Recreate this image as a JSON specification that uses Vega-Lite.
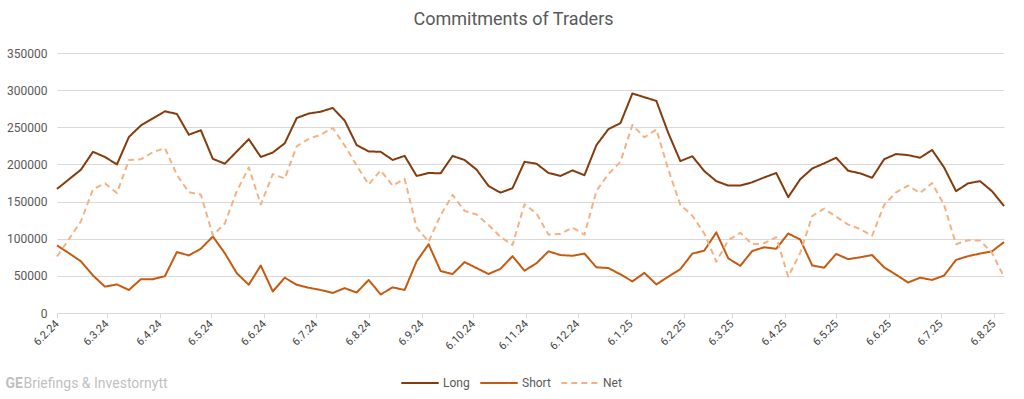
{
  "$schema": "https://vega.github.io/schema/vega-lite/v6.json",
  "autosize": {"type": "none"},
  "padding": {"left": 57, "top": 53, "right": 20, "bottom": 86},
  "width": 947,
  "height": 260,
  "background": "white",
  "config": {"view": {"stroke": null}, "font": "Roboto"},
  "title": {"text": "Commitments of Traders", "fontSize": 18, "font": "Roboto", "fontWeight": "normal", "color": "#595959", "anchor": "middle", "dx": -17, "offset": 18},
  "data": {"values": [
    {"date": "2024-02-06", "Long": 167000, "Short": 91000, "Net": 76000},
    {"date": "2024-02-13", "Long": 180000, "Short": 80500, "Net": 99500},
    {"date": "2024-02-20", "Long": 193000, "Short": 69500, "Net": 123500},
    {"date": "2024-02-27", "Long": 217000, "Short": 50500, "Net": 166500},
    {"date": "2024-03-05", "Long": 210000, "Short": 35500, "Net": 174500},
    {"date": "2024-03-12", "Long": 200000, "Short": 38500, "Net": 161500},
    {"date": "2024-03-19", "Long": 237000, "Short": 31000, "Net": 206000},
    {"date": "2024-03-26", "Long": 252500, "Short": 45500, "Net": 207000},
    {"date": "2024-04-02", "Long": 262000, "Short": 45500, "Net": 216500},
    {"date": "2024-04-09", "Long": 271500, "Short": 49500, "Net": 222000},
    {"date": "2024-04-16", "Long": 268000, "Short": 82000, "Net": 186000},
    {"date": "2024-04-23", "Long": 240000, "Short": 77500, "Net": 162500},
    {"date": "2024-04-30", "Long": 246000, "Short": 86500, "Net": 159500},
    {"date": "2024-05-07", "Long": 207500, "Short": 103000, "Net": 104500},
    {"date": "2024-05-14", "Long": 201000, "Short": 80500, "Net": 120500},
    {"date": "2024-05-21", "Long": 217500, "Short": 53500, "Net": 164000},
    {"date": "2024-05-28", "Long": 234000, "Short": 38000, "Net": 196000},
    {"date": "2024-06-04", "Long": 210000, "Short": 64000, "Net": 146000},
    {"date": "2024-06-11", "Long": 216000, "Short": 29000, "Net": 187000},
    {"date": "2024-06-18", "Long": 228500, "Short": 47500, "Net": 181000},
    {"date": "2024-06-25", "Long": 262500, "Short": 38000, "Net": 224500},
    {"date": "2024-07-02", "Long": 268500, "Short": 34000, "Net": 234500},
    {"date": "2024-07-09", "Long": 271000, "Short": 31000, "Net": 240000},
    {"date": "2024-07-16", "Long": 276000, "Short": 27000, "Net": 249000},
    {"date": "2024-07-23", "Long": 259000, "Short": 33500, "Net": 225500},
    {"date": "2024-07-30", "Long": 226000, "Short": 27500, "Net": 198500},
    {"date": "2024-08-06", "Long": 217500, "Short": 44500, "Net": 173000},
    {"date": "2024-08-13", "Long": 217000, "Short": 25000, "Net": 192000},
    {"date": "2024-08-20", "Long": 206000, "Short": 34500, "Net": 171500},
    {"date": "2024-08-27", "Long": 211500, "Short": 31000, "Net": 180500},
    {"date": "2024-09-03", "Long": 184500, "Short": 69500, "Net": 115000},
    {"date": "2024-09-10", "Long": 188500, "Short": 92500, "Net": 96000},
    {"date": "2024-09-17", "Long": 188000, "Short": 56500, "Net": 131500},
    {"date": "2024-09-24", "Long": 211500, "Short": 52500, "Net": 159000},
    {"date": "2024-10-01", "Long": 206000, "Short": 68500, "Net": 137500},
    {"date": "2024-10-08", "Long": 193000, "Short": 60500, "Net": 132500},
    {"date": "2024-10-15", "Long": 171000, "Short": 52500, "Net": 118500},
    {"date": "2024-10-22", "Long": 162000, "Short": 59500, "Net": 102500},
    {"date": "2024-10-29", "Long": 168000, "Short": 76500, "Net": 91500},
    {"date": "2024-11-05", "Long": 203500, "Short": 57000, "Net": 146500},
    {"date": "2024-11-12", "Long": 201000, "Short": 67000, "Net": 134000},
    {"date": "2024-11-19", "Long": 188500, "Short": 83000, "Net": 105500},
    {"date": "2024-11-26", "Long": 184500, "Short": 78000, "Net": 106500},
    {"date": "2024-12-03", "Long": 192000, "Short": 77000, "Net": 115000},
    {"date": "2024-12-10", "Long": 185500, "Short": 80000, "Net": 105500},
    {"date": "2024-12-17", "Long": 226000, "Short": 61500, "Net": 164500},
    {"date": "2024-12-24", "Long": 247500, "Short": 60500, "Net": 187000},
    {"date": "2024-12-31", "Long": 255500, "Short": 52000, "Net": 203500},
    {"date": "2025-01-07", "Long": 295500, "Short": 42500, "Net": 253000},
    {"date": "2025-01-14", "Long": 290500, "Short": 54000, "Net": 236500},
    {"date": "2025-01-21", "Long": 285500, "Short": 38500, "Net": 247000},
    {"date": "2025-01-28", "Long": 242000, "Short": 49000, "Net": 193000},
    {"date": "2025-02-04", "Long": 204500, "Short": 59000, "Net": 145500},
    {"date": "2025-02-11", "Long": 211000, "Short": 80000, "Net": 131000},
    {"date": "2025-02-18", "Long": 191000, "Short": 84000, "Net": 107000},
    {"date": "2025-02-25", "Long": 177500, "Short": 108500, "Net": 69000},
    {"date": "2025-03-04", "Long": 171500, "Short": 73500, "Net": 98000},
    {"date": "2025-03-11", "Long": 171500, "Short": 63500, "Net": 108000},
    {"date": "2025-03-18", "Long": 176000, "Short": 83500, "Net": 92500},
    {"date": "2025-03-25", "Long": 182500, "Short": 88500, "Net": 94000},
    {"date": "2025-04-01", "Long": 188500, "Short": 86500, "Net": 102000},
    {"date": "2025-04-08", "Long": 156000, "Short": 107000, "Net": 49000},
    {"date": "2025-04-15", "Long": 180000, "Short": 99000, "Net": 81000},
    {"date": "2025-04-22", "Long": 194500, "Short": 64000, "Net": 130500},
    {"date": "2025-04-29", "Long": 201500, "Short": 61000, "Net": 140500},
    {"date": "2025-05-06", "Long": 209000, "Short": 79500, "Net": 129500},
    {"date": "2025-05-13", "Long": 191500, "Short": 72500, "Net": 119000},
    {"date": "2025-05-20", "Long": 188000, "Short": 75000, "Net": 113000},
    {"date": "2025-05-27", "Long": 182000, "Short": 78000, "Net": 104000},
    {"date": "2025-06-03", "Long": 207000, "Short": 61500, "Net": 145500},
    {"date": "2025-06-10", "Long": 214000, "Short": 51500, "Net": 162500},
    {"date": "2025-06-17", "Long": 212500, "Short": 41000, "Net": 171500},
    {"date": "2025-06-24", "Long": 209000, "Short": 47500, "Net": 161500},
    {"date": "2025-07-01", "Long": 219500, "Short": 44500, "Net": 175000},
    {"date": "2025-07-08", "Long": 196000, "Short": 50500, "Net": 145500},
    {"date": "2025-07-15", "Long": 164000, "Short": 71500, "Net": 92500},
    {"date": "2025-07-22", "Long": 174500, "Short": 76500, "Net": 98000},
    {"date": "2025-07-29", "Long": 177500, "Short": 80000, "Net": 97500},
    {"date": "2025-08-05", "Long": 164000, "Short": 83000, "Net": 81000},
    {"date": "2025-08-12", "Long": 144000, "Short": 95500, "Net": 48500}
  ]},
  "transform": [{"fold": ["Long", "Short", "Net"], "as": ["series", "value"]}],
  "mark": {"type": "line", "strokeWidth": 2, "strokeJoin": "round"},
  "encoding": {
    "x": {
      "field": "date", "type": "temporal",
      "scale": {"type": "utc", "domain": [{"year": 2024, "month": 2, "date": 6, "utc": true}, {"year": 2025, "month": 8, "date": 12, "utc": true}], "nice": false},
      "axis": {
        "values": [
          {"year": 2024, "month": 2, "date": 6, "utc": true},
          {"year": 2024, "month": 3, "date": 6, "utc": true},
          {"year": 2024, "month": 4, "date": 6, "utc": true},
          {"year": 2024, "month": 5, "date": 6, "utc": true},
          {"year": 2024, "month": 6, "date": 6, "utc": true},
          {"year": 2024, "month": 7, "date": 6, "utc": true},
          {"year": 2024, "month": 8, "date": 6, "utc": true},
          {"year": 2024, "month": 9, "date": 6, "utc": true},
          {"year": 2024, "month": 10, "date": 6, "utc": true},
          {"year": 2024, "month": 11, "date": 6, "utc": true},
          {"year": 2024, "month": 12, "date": 6, "utc": true},
          {"year": 2025, "month": 1, "date": 6, "utc": true},
          {"year": 2025, "month": 2, "date": 6, "utc": true},
          {"year": 2025, "month": 3, "date": 6, "utc": true},
          {"year": 2025, "month": 4, "date": 6, "utc": true},
          {"year": 2025, "month": 5, "date": 6, "utc": true},
          {"year": 2025, "month": 6, "date": 6, "utc": true},
          {"year": 2025, "month": 7, "date": 6, "utc": true},
          {"year": 2025, "month": 8, "date": 6, "utc": true}
        ],
        "labelExpr": "utcFormat(datum.value, '%-d.%-m.%y')",
        "labelAngle": -45,
        "labelAlign": "right",
        "labelBaseline": "middle",
        "labelFontSize": 11,
        "labelColor": "#404040",
        "labelPadding": 4,
        "labelOverlap": false,
        "labelFlush": false,
        "domainColor": "#d9d9d9",
        "tickColor": "#d9d9d9",
        "tickSize": 5,
        "grid": false,
        "title": "Briefings & Investornytt",
        "titleColor": "#bfbfbf",
        "titleFontSize": 14,
        "titleFontWeight": "normal",
        "titleAlign": "left",
        "titleAnchor": "start",
        "titleBaseline": "middle",
        "titleX": -34,
        "titleY": 70
      }
    },
    "y": {
      "field": "value", "type": "quantitative",
      "scale": {"domain": [0, 350000], "nice": false},
      "axis": {
        "values": [0, 50000, 100000, 150000, 200000, 250000, 300000, 350000],
        "format": "d",
        "labelFontSize": 12,
        "labelColor": "#595959",
        "labelPadding": 10,
        "ticks": false,
        "domain": false,
        "gridColor": "#d9d9d9",
        "gridWidth": 1,
        "title": "GE",
        "titleAngle": 0,
        "titleColor": "#bfbfbf",
        "titleFontSize": 14,
        "titleFontWeight": "bold",
        "titleAlign": "left",
        "titleBaseline": "middle",
        "titleX": -52,
        "titleY": 330
      }
    },
    "color": {
      "field": "series", "type": "nominal",
      "scale": {"domain": ["Long", "Short", "Net"], "range": ["#843c0c", "#c55a11", "#f4b183"]},
      "legend": {
        "title": null,
        "orient": "none",
        "direction": "horizontal",
        "legendX": 343,
        "legendY": 310,
        "symbolType": "stroke",
        "symbolSize": 1400,
        "symbolStrokeWidth": 2,
        "labelFontSize": 12,
        "labelColor": "#595959",
        "columnPadding": 6,
        "labelOffset": 3
      }
    },
    "strokeDash": {
      "field": "series", "type": "nominal",
      "scale": {"domain": ["Long", "Short", "Net"], "range": [[1, 0], [1, 0], [6, 4]]},
      "legend": {
        "title": null,
        "orient": "none",
        "direction": "horizontal",
        "legendX": 343,
        "legendY": 310,
        "symbolType": "stroke",
        "symbolSize": 1400,
        "symbolStrokeWidth": 2,
        "labelFontSize": 12,
        "labelColor": "#595959",
        "columnPadding": 6,
        "labelOffset": 3
      }
    }
  }
}
